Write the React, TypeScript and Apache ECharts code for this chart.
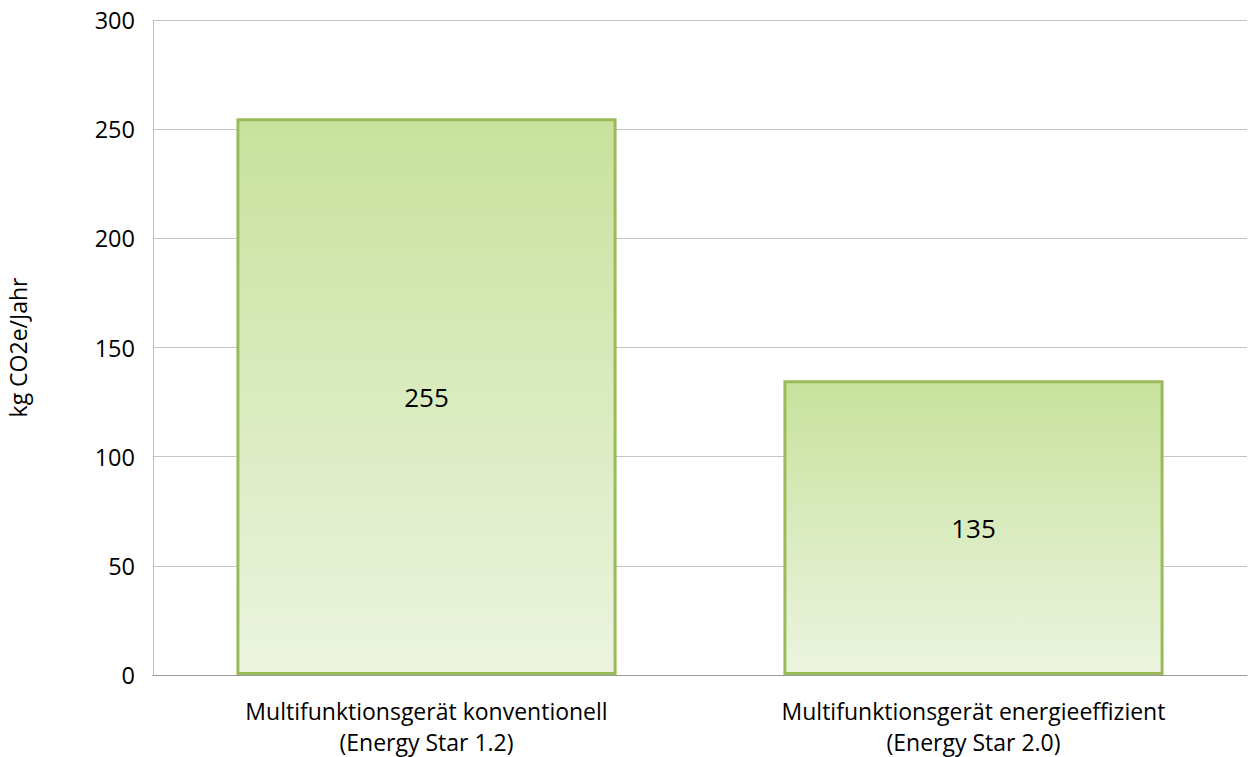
import React, { useEffect, useRef } from "react";
import * as echarts from "echarts";

const categories = [
  "Multifunktionsgerät konventionell\n(Energy Star 1.2)",
  "Multifunktionsgerät energieeffizient\n(Energy Star 2.0)",
];
const values = [255, 135];
const yAxisTitle = "kg CO2e/Jahr";

const FONT = "'Open Sans', 'Noto Sans', sans-serif";

export default function App() {
  const ref = useRef<HTMLDivElement>(null);
  useEffect(() => {
    if (!ref.current) return;
    const chart = echarts.init(ref.current, undefined, { renderer: "svg" });
    chart.setOption({
      animation: false,
      grid: {
        left: 153,
        right: 1,
        top: 20,
        bottom: 82,
        containLabel: false,
        outerBoundsMode: "none",
      },
      xAxis: {
        type: "category",
        data: categories,
        axisLine: { show: true, lineStyle: { color: "#9a9a9a", width: 1 } },
        axisTick: { show: false },
        axisLabel: {
          color: "#000",
          fontSize: 23,
          fontFamily: FONT,
          lineHeight: 31,
          margin: 20,
          interval: 0,
        },
      },
      yAxis: {
        type: "value",
        min: 0,
        max: 300,
        interval: 50,
        name: yAxisTitle,
        nameLocation: "middle",
        nameGap: 124,
        nameTextStyle: { color: "#000", fontSize: 23, fontFamily: FONT },
        axisLine: { show: true, lineStyle: { color: "#c0c0c0" } },
        axisTick: { show: false },
        axisLabel: { color: "#000", fontSize: 23.5, fontFamily: FONT, margin: 18 },
        splitLine: { lineStyle: { color: "#c4c4c4", width: 1 } },
      },
      series: [
        {
          type: "bar",
          data: values,
          barWidth: "69.5%",
          itemStyle: {
            color: new echarts.graphic.LinearGradient(0, 0, 0, 1, [
              { offset: 0, color: "#c8e29d" },
              { offset: 1, color: "#ecf4e0" },
            ]),
            borderColor: "#9bbb59",
            borderWidth: 3,
          },
          label: {
            show: true,
            position: "inside",
            color: "#000",
            fontSize: 26,
            fontFamily: FONT,
          },
        },
      ],
    });
    return () => chart.dispose();
  }, []);
  return (
    <div
      ref={ref}
      style={{ position: "fixed", left: 0, top: 0, width: 1248, height: 757, background: "#fff" }}
    />
  );
}
